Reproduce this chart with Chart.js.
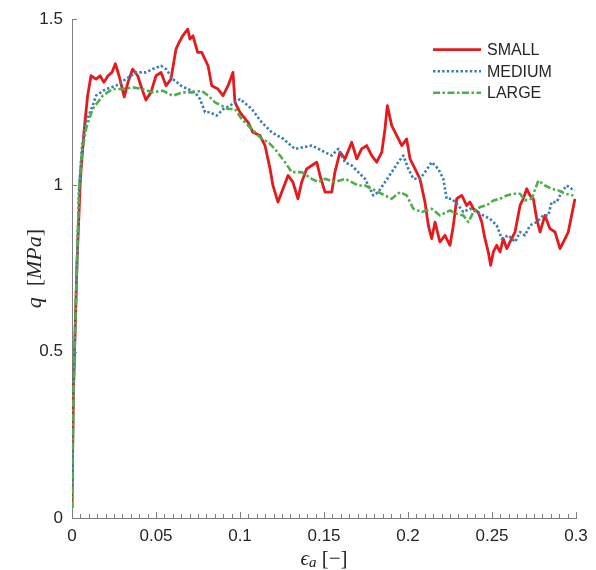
<!DOCTYPE html>
<html><head><meta charset="utf-8">
<script src="https://cdn.jsdelivr.net/npm/chart.js@4.4.0/dist/chart.umd.min.js"></script>
<style>html,body{margin:0;padding:0;background:#fff}#wrap{width:596px;height:570px}</style>
</head><body><div id="wrap"><canvas id="c" width="596" height="570"></canvas></div>
<script>
const seriesNames = ['SMALL', 'MEDIUM', 'LARGE'];
const xTickLabels = ['0', '0.05', '0.1', '0.15', '0.2', '0.25', '0.3'];
const yTickLabels = ['0', '0.5', '1', '1.5'];

const smallStrain = [0, 0.0008, 0.003, 0.005, 0.0073, 0.0093, 0.0113, 0.0143, 0.0167, 0.019,
  0.0214, 0.0238, 0.0258, 0.028, 0.0311, 0.0333, 0.0361, 0.0391, 0.041, 0.044,
  0.047, 0.05, 0.053, 0.056, 0.0589, 0.0619, 0.0637, 0.0659, 0.0689, 0.0702,
  0.072, 0.0748, 0.0772, 0.081, 0.0832, 0.0869, 0.0899, 0.0929, 0.0958, 0.097,
  0.1, 0.1048, 0.1077, 0.1119, 0.1149, 0.1179, 0.1196, 0.1226, 0.1256, 0.1286,
  0.1315, 0.1345, 0.1367, 0.1397, 0.1427, 0.1457, 0.1476, 0.1506, 0.1546, 0.1565,
  0.1595, 0.1625, 0.1665, 0.1695, 0.1724, 0.1754, 0.1784, 0.1814, 0.1844, 0.1863,
  0.1877, 0.1903, 0.1933, 0.1963, 0.1992, 0.2012, 0.2042, 0.2071, 0.2101, 0.2121,
  0.2141, 0.2161, 0.219, 0.222, 0.225, 0.227, 0.229, 0.232, 0.2349, 0.2369,
  0.2389, 0.2418, 0.2439, 0.2458, 0.2478, 0.2492, 0.2508, 0.2528, 0.2548, 0.2567,
  0.2588, 0.2607, 0.2637, 0.2667, 0.2686, 0.2707, 0.2726, 0.2746, 0.2766, 0.2786,
  0.2815, 0.2845, 0.2875, 0.2905, 0.2935, 0.2954, 0.2974, 0.2994];
const smallQ = [0.03, 0.37, 0.77, 1.02, 1.17, 1.27, 1.33, 1.32, 1.33, 1.31,
  1.33, 1.34, 1.366, 1.33, 1.266, 1.31, 1.35, 1.33, 1.30, 1.257,
  1.28, 1.33, 1.34, 1.30, 1.32, 1.41, 1.43, 1.45, 1.47, 1.44,
  1.45, 1.40, 1.40, 1.36, 1.30, 1.29, 1.27, 1.30, 1.34, 1.25,
  1.22, 1.19, 1.16, 1.15, 1.12, 1.05, 1.00, 0.95, 0.99, 1.03,
  1.01, 0.96, 1.01, 1.05, 1.06, 1.07, 1.03, 0.98, 0.98, 1.04,
  1.10, 1.08, 1.13, 1.08, 1.11, 1.12, 1.09, 1.07, 1.10, 1.17,
  1.24, 1.18, 1.15, 1.12, 1.14, 1.08, 1.05, 1.02, 0.95, 0.88,
  0.84, 0.89, 0.83, 0.85, 0.82, 0.88, 0.96, 0.97, 0.94, 0.95,
  0.93, 0.92, 0.89, 0.84, 0.80, 0.76, 0.80, 0.82, 0.80, 0.84,
  0.81, 0.83, 0.86, 0.94, 0.96, 0.99, 0.97, 0.96, 0.90, 0.86,
  0.91, 0.87, 0.86, 0.81, 0.84, 0.86, 0.91, 0.96];

const mediumStrain = [0, 0.0008, 0.003, 0.0043, 0.006, 0.0083, 0.0123, 0.0143, 0.0202, 0.0262,
  0.0321, 0.0381, 0.044, 0.048, 0.053, 0.056, 0.06, 0.0649, 0.0689, 0.0732,
  0.0762, 0.0792, 0.0821, 0.0861, 0.0901, 0.094, 0.1, 0.107, 0.1129, 0.1189,
  0.1258, 0.1327, 0.1427, 0.1506, 0.1546, 0.1585, 0.1625, 0.1665, 0.1704, 0.1744,
  0.1793, 0.1823, 0.1863, 0.1903, 0.1942, 0.1972, 0.2002, 0.2032, 0.2071, 0.2101,
  0.2141, 0.218, 0.221, 0.223, 0.226, 0.23, 0.2329, 0.2369, 0.2409, 0.2448,
  0.2488, 0.2528, 0.2558, 0.2597, 0.2637, 0.2667, 0.2696, 0.2726, 0.2766, 0.2805,
  0.2835, 0.2855, 0.2885, 0.2915, 0.2945, 0.2974, 0.2994];
const mediumQ = [0.03, 0.37, 0.77, 1.00, 1.12, 1.19, 1.24, 1.27, 1.29, 1.30,
  1.32, 1.34, 1.34, 1.35, 1.36, 1.35, 1.32, 1.30, 1.29, 1.28,
  1.26, 1.22, 1.22, 1.21, 1.23, 1.24, 1.26, 1.23, 1.19, 1.16,
  1.14, 1.11, 1.12, 1.10, 1.09, 1.11, 1.07, 1.06, 1.04, 1.02,
  0.97, 0.98, 1.01, 1.04, 1.07, 1.09, 1.05, 1.02, 1.02, 1.04,
  1.07, 1.05, 1.02, 0.96, 0.96, 0.94, 0.92, 0.93, 0.92, 0.91,
  0.90, 0.88, 0.84, 0.85, 0.83, 0.86, 0.85, 0.88, 0.89, 0.91,
  0.91, 0.95, 0.95, 0.98, 1.00, 0.99, 0.985];

const largeStrain = [0, 0.0008, 0.003, 0.0043, 0.006, 0.0083, 0.0123, 0.0183, 0.0242, 0.0302,
  0.0361, 0.0421, 0.048, 0.054, 0.06, 0.0659, 0.0718, 0.0772, 0.0811, 0.0851,
  0.0891, 0.093, 0.097, 0.101, 0.1049, 0.1089, 0.1129, 0.1168, 0.1208, 0.1268,
  0.1308, 0.1367, 0.1427, 0.1466, 0.1506, 0.1565, 0.1625, 0.1665, 0.1704, 0.1744,
  0.1784, 0.1823, 0.1863, 0.1903, 0.1952, 0.1992, 0.2032, 0.2082, 0.2141, 0.219,
  0.225, 0.229, 0.2329, 0.2359, 0.2389, 0.2429, 0.2468, 0.2508, 0.2548, 0.2588,
  0.2627, 0.2667, 0.2696, 0.2736, 0.2776, 0.2815, 0.2855, 0.2895, 0.2935, 0.2984];
const largeQ = [0.03, 0.37, 0.77, 1.00, 1.10, 1.17, 1.23, 1.27, 1.29, 1.29,
  1.295, 1.29, 1.28, 1.285, 1.27, 1.28, 1.28, 1.285, 1.27, 1.25,
  1.24, 1.23, 1.23, 1.20, 1.18, 1.16, 1.14, 1.13, 1.11, 1.07,
  1.04, 1.04, 1.02, 1.01, 1.02, 1.01, 1.02, 1.01, 1.00, 1.00,
  0.99, 0.98, 0.97, 0.96, 0.98, 0.97, 0.93, 0.92, 0.93, 0.91,
  0.925, 0.915, 0.91, 0.89, 0.92, 0.935, 0.94, 0.955, 0.96, 0.97,
  0.975, 0.975, 0.955, 0.96, 1.015, 1.00, 0.99, 0.985, 0.975, 0.97];

const pts = (xs, ys) => xs.map((x, i) => ({x: x, y: ys[i]}));

const AXIS_COLOR = '#7f7f7f';
const TEXT_COLOR = '#262626';

const inTicks = {
  id: 'inTicks',
  beforeDatasetsDraw(chart) {
    const {ctx, chartArea: a, scales: {x, y}} = chart;
    ctx.save();
    ctx.strokeStyle = AXIS_COLOR;
    ctx.lineWidth = 1;
    ctx.beginPath();
    for (let k = 0; k <= 60; k++) {
      const v = x.min + k * (x.max - x.min) / 60;
      const px = Math.round(x.getPixelForValue(v)) + 0.5;
      const len = (k % 10 === 0) ? 6 : 4;
      ctx.moveTo(px, a.bottom);
      ctx.lineTo(px, a.bottom - len);
    }
    yTickLabels.forEach(l => {
      const py = Math.round(y.getPixelForValue(parseFloat(l))) + 0.5;
      ctx.moveTo(a.left, py);
      ctx.lineTo(a.left + 5, py);
    });
    ctx.stroke();
    ctx.restore();
  }
};

function drawRuns(ctx, runs, cx, cy) {
  let total = 0;
  runs.forEach(r => { ctx.font = r.font; r.w = ctx.measureText(r.t).width; total += r.w; });
  let xx = cx - total / 2;
  runs.forEach(r => {
    ctx.font = r.font;
    ctx.fillText(r.t, xx, cy + (r.dy || 0));
    xx += r.w;
  });
}

const titles = {
  id: 'titles',
  afterDraw(chart) {
    const {ctx, chartArea: a} = chart;
    ctx.save();
    ctx.fillStyle = TEXT_COLOR;
    ctx.textAlign = 'left';
    ctx.textBaseline = 'middle';
    const it = 'italic 21px "Liberation Serif", "DejaVu Serif", serif';
    const up = '21px "Liberation Serif", "DejaVu Serif", serif';
    const sub = 'italic 15px "Liberation Serif", "DejaVu Serif", serif';
    // x title
    drawRuns(ctx, [
      {t: '\u03F5', font: it},
      {t: 'a', font: sub, dy: 4},
      {t: ' [\u2212]', font: up}
    ], (a.left + a.right) / 2, a.bottom + 41);
    // y title
    ctx.translate(a.left - 37, (a.top + a.bottom) / 2);
    ctx.rotate(-Math.PI / 2);
    const it2 = 'italic 22px "Liberation Serif", "DejaVu Serif", serif';
    const up2 = '22px "Liberation Serif", "DejaVu Serif", serif';
    drawRuns(ctx, [
      {t: 'q', font: it2},
      {t: '  [', font: up2},
      {t: 'MPa', font: it2},
      {t: ']', font: up2}
    ], 0, 0);
    ctx.restore();
  }
};

const legendPlugin = {
  id: 'lineLegend',
  afterDraw(chart) {
    const {ctx, chartArea: a} = chart;
    ctx.save();
    ctx.font = '16px "Liberation Sans", Arial, sans-serif';
    ctx.textBaseline = 'middle';
    ctx.textAlign = 'left';
    chart.data.datasets.forEach((ds, i) => {
      const yy = a.top + 30.5 + i * 21.5;
      ctx.strokeStyle = ds.borderColor;
      ctx.lineWidth = ds.borderWidth;
      ctx.setLineDash(ds.borderDash || []);
      ctx.beginPath();
      ctx.moveTo(a.right - 143, yy);
      ctx.lineTo(a.right - 95, yy);
      ctx.stroke();
      ctx.setLineDash([]);
      ctx.fillStyle = TEXT_COLOR;
      ctx.fillText(ds.label, a.right - 89, yy + 1);
    });
    ctx.restore();
  }
};

new Chart(document.getElementById('c'), {
  type: 'line',
  data: {
    datasets: [
      {label: seriesNames[0], data: pts(smallStrain, smallQ), borderColor: '#e41a1c', borderWidth: 2.8, borderDash: [], order: 3},
      {label: seriesNames[1], data: pts(mediumStrain, mediumQ), borderColor: '#377eb8', borderWidth: 2.6, borderDash: [2.4, 2.2], order: 2},
      {label: seriesNames[2], data: pts(largeStrain, largeQ), borderColor: '#4daf4a', borderWidth: 2.6, borderDash: [7, 2.5, 2.5, 2.5], order: 1}
    ]
  },
  options: {
    responsive: false,
    animation: false,
    devicePixelRatio: 1,
    layout: {padding: {left: 0, right: 20, top: 17, bottom: 0}},
    elements: {point: {radius: 0}, line: {tension: 0, borderJoinStyle: 'round', borderCapStyle: 'butt'}},
    plugins: {legend: {display: false}, tooltip: {enabled: false}},
    scales: {
      x: {
        type: 'linear', min: 0, max: 0.3,
        afterFit: s => { s.height = 52; },
        afterBuildTicks: s => { s.ticks = xTickLabels.map(l => ({value: parseFloat(l)})); },
        ticks: {callback: (v, i) => xTickLabels[i], font: {family: '"Liberation Sans", Arial, sans-serif', size: 17}, color: TEXT_COLOR, padding: 8, maxRotation: 0, autoSkip: false},
        grid: {display: false, drawTicks: false},
        border: {display: true, color: AXIS_COLOR, width: 1}
      },
      y: {
        type: 'linear', min: 0, max: 1.5,
        afterFit: s => { s.width = 72; },
        afterBuildTicks: s => { s.ticks = yTickLabels.map(l => ({value: parseFloat(l)})); },
        ticks: {callback: (v, i) => yTickLabels[i], font: {family: '"Liberation Sans", Arial, sans-serif', size: 17}, color: TEXT_COLOR, padding: 9, autoSkip: false},
        grid: {display: false, drawTicks: false},
        border: {display: true, color: AXIS_COLOR, width: 1}
      }
    }
  },
  plugins: [inTicks, titles, legendPlugin]
});
</script>
</body></html>
